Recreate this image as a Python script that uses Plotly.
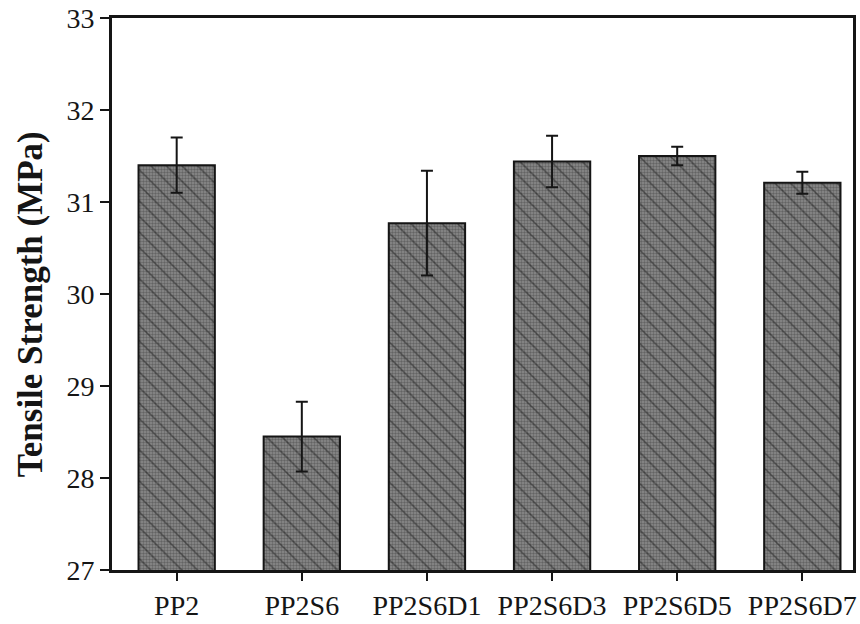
import plotly.graph_objects as go

# Tensile strength of the PP2 blend series (mean ± standard deviation)
samples = ["PP2", "PP2S6", "PP2S6D1", "PP2S6D3", "PP2S6D5", "PP2S6D7"]
strength_mpa = [31.40, 28.45, 30.77, 31.44, 31.50, 31.21]
strength_sd = [0.30, 0.38, 0.57, 0.28, 0.10, 0.12]
y_ticks = [27, 28, 29, 30, 31, 32, 33]

serif = "Liberation Serif"
ink = "#151515"

fig = go.Figure()

# Stippled grey fill
fig.add_trace(go.Bar(
    x=samples, y=strength_mpa, base=0, width=0.61,
    marker=dict(
        color="#8c8c8c",
        line=dict(width=0),
        pattern=dict(shape=".", fgcolor="#3c3c3c", bgcolor="#8c8c8c",
                     size=3, solidity=0.5),
    ),
    hoverinfo="skip",
))

# Diagonal hatching, outline and error bars on top
fig.add_trace(go.Bar(
    x=samples, y=strength_mpa, base=0, width=0.61,
    marker=dict(
        color="rgba(0,0,0,0)",
        line=dict(color=ink, width=2),
        pattern=dict(shape="\\", fgcolor=ink, bgcolor="rgba(0,0,0,0)",
                     size=11, solidity=0.14),
    ),
    error_y=dict(type="data", array=strength_sd, symmetric=True,
                 color=ink, thickness=2, width=6),
))

fig.update_layout(
    width=860,
    height=624,
    margin=dict(l=112, r=3, t=18, b=50),
    paper_bgcolor="white",
    plot_bgcolor="white",
    showlegend=False,
    barmode="overlay",
    font=dict(family=serif, color=ink),
    annotations=[dict(
        text="<b>Tensile Strength (MPa)</b>",
        xref="paper", yref="paper",
        x=-112 / 745 + 30 / 745, y=(574 - 306) / 556,
        xanchor="center", yanchor="middle",
        textangle=-90, showarrow=False,
        font=dict(size=35, family=serif, color=ink),
    )],
)

fig.update_xaxes(
    type="category",
    range=[-0.517, 5.405],
    showline=True, linecolor=ink, linewidth=3, mirror=True,
    ticks="outside", ticklen=8, tickwidth=2, tickcolor=ink,
    tickfont=dict(size=28, family=serif, color=ink),
    showgrid=False, zeroline=False,
)

fig.update_yaxes(
    range=[27, 33],
    tickvals=y_ticks,
    showline=True, linecolor=ink, linewidth=3, mirror=True,
    ticks="outside", ticklen=9, tickwidth=2, tickcolor=ink,
    tickfont=dict(size=28, family=serif, color=ink),
    showgrid=False, zeroline=False,
)

fig.write_html("out.html")
